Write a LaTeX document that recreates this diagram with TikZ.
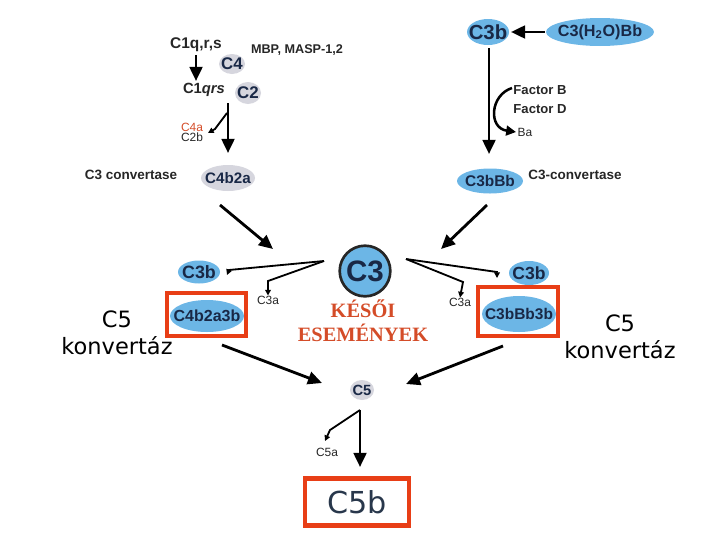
\documentclass[tikz,border=0pt]{standalone}
\usepackage{fontspec}
\setmainfont{Liberation Sans}
\newfontfamily\kserif{Liberation Serif}
\newfontfamily\comic{DejaVu Sans}
\usetikzlibrary{arrows.meta,shapes.geometric}
\definecolor{cblue}{RGB}{108,182,230}
\definecolor{ctext}{RGB}{25,40,70}
\definecolor{cgray}{RGB}{214,214,222}
\definecolor{cred}{RGB}{232,62,22}
\definecolor{kred}{RGB}{212,76,40}
\definecolor{c5btext}{RGB}{40,55,75}
% #1 fill colour, #2 name, #3 centre, #4 x radius, #5 y radius, #6 font size, #7 text
\newcommand\ovnode[7]{%
  \fill[#1] (#3) ellipse [x radius=#4, y radius=#5];
  \node[ovtext, font={\bfseries\fontsize{#6}{#6}\selectfont}] (#2) at (#3) {#7};}
\begin{document}
\begin{tikzpicture}[x=0.025cm,y=-0.025cm,
 ovtext/.style={inner sep=0pt, text=ctext},
 lbl/.style={text=black!85, font=\bfseries, inner sep=1pt},
 small/.style={font=\fontsize{8.5}{9}\selectfont, text=black!85, inner sep=0pt},
 arr/.style={line width=2pt, -{Triangle[length=10pt,width=9pt]}},
 sarr/.style={line width=1.3pt, -{Triangle[length=4pt,width=4pt]}},
 redbox/.style={draw=cred, line width=3.5pt},
 konv/.style={font=\comic\fontsize{16}{19}\selectfont, align=center, text=black},
]
\useasboundingbox (0,0) rectangle (720,540);

% ---------- left top: classical / lectin ----------
\node[lbl, font=\bfseries\fontsize{11}{12}\selectfont] (c1qrs0) at (196,45) {C1q,r,s};
\node[lbl, font=\bfseries\fontsize{9}{10}\selectfont] (mbp) at (297,50) {MBP, MASP-1,2};
\ovnode{cgray}{c4}{232,64}{13}{10}{12}{C4}
\node[lbl, font=\bfseries\fontsize{10.5}{12}\selectfont] (c1qrs) at (204,90) {C1\textit{qrs}};
\ovnode{cgray}{c2}{248,93}{13}{11}{12}{C2}
\coordinate (a1s) at (196,55);
\coordinate (a1e) at (196,81);
\draw[arr] (a1s) -- (a1e);
\coordinate (b1s) at (228,103);
\coordinate (b1e) at (228,153);
\draw[arr] (b1s) -- (b1e);
\coordinate (b1a) at (227,113);
\coordinate (b1b) at (215,129);
\coordinate (b1c) at (208,133);
\draw[sarr] (b1a) -- (b1b) -- (b1c);
\node[small, text=kred] (c4a) at (192,127) {C4a};
\node[small] (c2b) at (192,137) {C2b};
\ovnode{cgray}{c4b2a}{228,178}{27}{13}{10.8}{C4b2a}
\node[lbl, font=\bfseries\fontsize{9.6}{11}\selectfont] (c3conv) at (131,175) {C3 convertase};

% ---------- right top: alternative ----------
\ovnode{cblue}{c3btop}{488,32}{21}{13}{14.5}{C3b}
\ovnode{cblue}{c3h2o}{600,32}{54}{14}{11.5}{C3(H\textsubscript{2}O)Bb}
\coordinate (h2oL) at (545,32);
\coordinate (c3bR) at (511,32);
\draw[arr] (h2oL) -- (c3bR);
\ovnode{cblue}{c3bbb}{490,181}{33}{12.5}{11}{C3bBb}
\node[lbl, font=\bfseries\fontsize{9.6}{11}\selectfont] (c3conv2) at (575,175) {C3-convertase};
\coordinate (v2s) at (489,48);
\coordinate (v2e) at (489,154);
\draw[arr] (v2s) -- (v2e);
\node[lbl, font=\bfseries\fontsize{9.3}{10}\selectfont] (facb) at (540,90) {Factor B};
\node[lbl, font=\bfseries\fontsize{9.3}{10}\selectfont] (facd) at (540,109) {Factor D};
\node[small, inner sep=1pt] (ba) at (525,132) {Ba};
\coordinate (fbs) at (512,88);
\draw[line width=1.8pt, -{Triangle[length=7pt,width=7pt]}] (fbs) .. controls (490,95) and (488,128) .. (ba.west);

% ---------- middle ----------
\coordinate (dl1) at (220,205);
\coordinate (dl2) at (273,249);
\draw[arr] (dl1) -- (dl2);
\coordinate (dr1) at (487,205);
\coordinate (dr2) at (441,249);
\draw[arr] (dr1) -- (dr2);

\node[circle, draw=black!85, line width=1.9pt, fill=cblue, minimum size=36pt, inner sep=0pt, text=ctext, font=\bfseries\fontsize{21}{22}\selectfont] (c3) at (365,271) {C3};

\ovnode{cblue}{c3bl}{199,272}{21}{11.5}{12.7}{C3b}
\ovnode{cblue}{c4b2a3b}{207,316}{37}{16}{11.4}{C4b2a3b}
\ovnode{cblue}{c3br}{529,273}{20}{12}{12.5}{C3b}
\ovnode{cblue}{c3bbb3b}{519,314}{37}{18}{11}{C3bBb3b}

\node[small] (c3al) at (268,300) {C3a};
\node[small] (c3ar) at (460,302) {C3a};

\coordinate (lfork) at (324,261);
\coordinate (lb1) at (229,270);
\coordinate (lb1e) at (227,275);
\coordinate (lb2) at (268,281);
\draw[sarr] (lfork) -- (lb1) -- (lb1e);
\draw[sarr] (lfork) -- (lb2) -- (c3al.north);
\coordinate (rfork) at (406,259);
\coordinate (rb1) at (497,272);
\coordinate (rb1e) at (497,278);
\coordinate (rb2) at (463,282);
\draw[sarr] (rfork) -- (rb1) -- (rb1e);
\draw[sarr] (rfork) -- (rb2) -- (c3ar.north);

\draw[redbox] (167,293) rectangle (246,336);
\draw[redbox] (478,287) rectangle (558,336);

\node[konv] (konvl) at (117,333) {C5\\konvertáz};
\node[konv] (konvr) at (620,337) {C5\\konvertáz};

\node[font=\kserif\bfseries\fontsize{14.5}{17}\selectfont, text=kred, align=center] (keso) at (363,321) {KÉSŐI\\ESEMÉNYEK};

% ---------- bottom ----------
\ovnode{cgray}{c5}{362,390}{12}{10}{10.5}{C5}
\coordinate (bl1) at (222,345);
\coordinate (bl2) at (322,383);
\draw[arr] (bl1) -- (bl2);
\coordinate (br1) at (503,346);
\coordinate (br2) at (406,384);
\draw[arr] (br1) -- (br2);
\coordinate (c5s) at (360,410);
\coordinate (c5e) at (360,467);
\node[draw=cred, line width=3.5pt, minimum width=74pt, minimum height=33pt, inner sep=0pt, text=c5btext, font=\comic\fontsize{21.5}{23}\selectfont] (c5b) at (357,502) {C5b};
\draw[arr] (c5s) -- (c5e);
\coordinate (c5k1) at (330,430);
\coordinate (c5k2) at (325,441);
\node[small] (c5a) at (327,452) {C5a};
\draw[sarr] (c5s) -- (c5k1) -- (c5k2);
\end{tikzpicture}
\end{document}
